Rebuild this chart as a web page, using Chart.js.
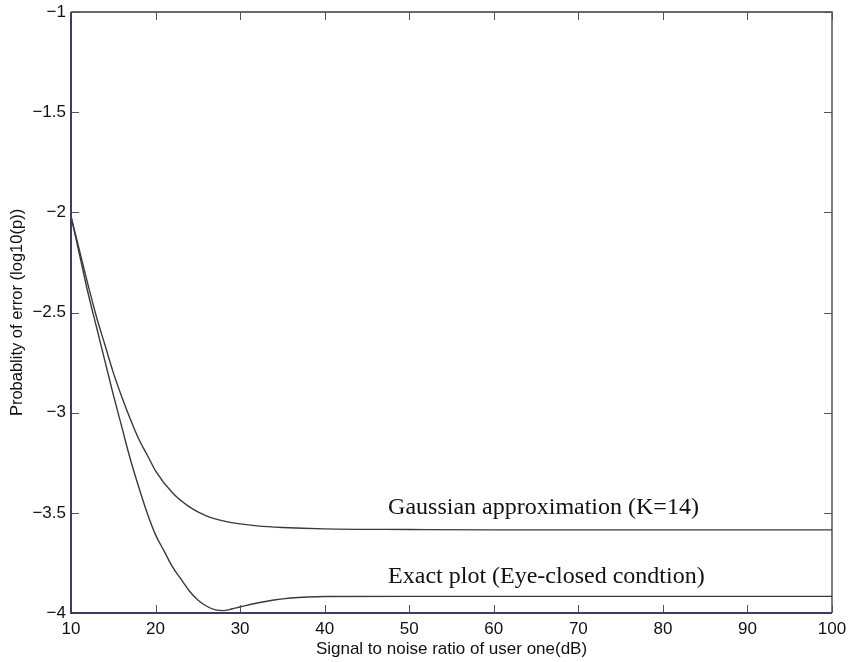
<!DOCTYPE html>
<html lang="en">

<head>
    <meta charset="utf-8">
    <style>
        html, body { margin: 0; padding: 0; background: #fff; }
        #wrap { position: relative; width: 850px; height: 662px; }
    </style>
</head>

<body>
    <div id="wrap">
        <canvas id="PeChart" width="850" height="662"></canvas>
    </div>

    <script src="https://cdn.jsdelivr.net/npm/chart.js"></script>

    <script>
        // SNR of user one (dB)
        var snrGauss = [10, 11, 12, 13, 14, 15, 16, 17, 18, 19, 20, 22, 24, 26, 28, 30, 32, 35, 40, 50, 60, 80, 100];
        // log10 of error probability, Gaussian approximation (K=14)
        var peGauss = [-2.02, -2.19, -2.36, -2.52, -2.66, -2.80, -2.92, -3.03, -3.13, -3.21, -3.29, -3.40, -3.47, -3.515, -3.54, -3.555, -3.565, -3.573, -3.58, -3.583, -3.585, -3.585, -3.585];

        var snrExact = [10, 11, 12, 13, 14, 15, 16, 17, 18, 19, 20, 21, 22, 23, 24, 25, 26, 27, 28, 29, 30, 32, 34, 36, 38, 40, 50, 60, 80, 100];
        // log10 of error probability, exact (eye-closed condition)
        var peExact = [-2.02, -2.21, -2.40, -2.57, -2.74, -2.91, -3.07, -3.23, -3.37, -3.50, -3.61, -3.69, -3.77, -3.83, -3.89, -3.935, -3.965, -3.983, -3.988, -3.98, -3.97, -3.95, -3.935, -3.925, -3.92, -3.918, -3.917, -3.917, -3.917, -3.917];

        var xTicks = [10, 20, 30, 40, 50, 60, 70, 80, 90, 100];
        var yTicks = [-4, -3.5, -3, -2.5, -2, -1.5, -1];

        // curve captions, placed in data coordinates
        var captions = [
            { text: 'Gaussian approximation (K=14)', x: 47.5, y: -3.505 },
            { text: 'Exact plot (Eye-closed condtion)', x: 47.5, y: -3.85 }
        ];

        var sansFont = '"Liberation Sans", Arial, Helvetica, sans-serif';

        function toPoints(xs, ys) {
            return xs.map(function (x, i) { return { x: x, y: ys[i] }; });
        }

        function minusSign(v) {
            return String(v).replace('-', '\u2212');
        }

        // Box frame with inward ticks on all four sides, plus the captions
        var frame = {
            id: 'frame',
            afterDraw: function (chart) {
                var ctx = chart.ctx;
                var a = chart.chartArea;
                var xs = chart.scales.x, ys = chart.scales.y;
                var tl = 8;
                ctx.save();
                ctx.lineWidth = 1.3;

                // top and right edges
                ctx.strokeStyle = '#3a3a3a';
                ctx.beginPath();
                ctx.moveTo(a.left, a.top);
                ctx.lineTo(a.right, a.top);
                ctx.lineTo(a.right, a.bottom);
                ctx.stroke();

                ctx.lineWidth = 1;
                ctx.strokeStyle = '#555';
                ctx.beginPath();
                xTicks.forEach(function (t) {
                    var px = Math.round(xs.getPixelForValue(t)) + 0.5;
                    ctx.moveTo(px, a.bottom);
                    ctx.lineTo(px, a.bottom - tl);
                    ctx.moveTo(px, a.top);
                    ctx.lineTo(px, a.top + tl);
                });
                yTicks.forEach(function (t) {
                    var py = Math.round(ys.getPixelForValue(t)) + 0.5;
                    ctx.moveTo(a.left, py);
                    ctx.lineTo(a.left + tl, py);
                    ctx.moveTo(a.right, py);
                    ctx.lineTo(a.right - tl, py);
                });
                ctx.stroke();

                // left and bottom edges
                ctx.lineWidth = 2;
                ctx.strokeStyle = '#3b3b66';
                ctx.beginPath();
                ctx.moveTo(a.left, a.top);
                ctx.lineTo(a.left, a.bottom);
                ctx.lineTo(a.right, a.bottom);
                ctx.stroke();

                ctx.fillStyle = '#111';
                ctx.font = '24px "Liberation Serif", "Times New Roman", serif';
                ctx.textAlign = 'left';
                ctx.textBaseline = 'alphabetic';
                captions.forEach(function (c) {
                    ctx.fillText(c.text, xs.getPixelForValue(c.x), ys.getPixelForValue(c.y));
                });
                ctx.restore();
            }
        };

        var ctx = document.getElementById('PeChart').getContext('2d');
        var myChart = new Chart(ctx, {
            type: 'line',
            data: {
                datasets: [{
                    label: 'Gaussian approximation (K=14)',
                    data: toPoints(snrGauss, peGauss),
                    borderColor: '#3a3a3a',
                    borderWidth: 1.4,
                    pointRadius: 0,
                    fill: false,
                    cubicInterpolationMode: 'monotone'
                }, {
                    label: 'Exact plot (Eye-closed condtion)',
                    data: toPoints(snrExact, peExact),
                    borderColor: '#3a3a3a',
                    borderWidth: 1.4,
                    pointRadius: 0,
                    fill: false,
                    cubicInterpolationMode: 'monotone'
                }]
            },
            options: {
                responsive: false,
                animation: false,
                layout: { padding: { top: 12, right: 18, left: 0, bottom: 0 } },
                plugins: {
                    legend: { display: false },
                    tooltip: { enabled: false }
                },
                scales: {
                    x: {
                        type: 'linear',
                        min: 10,
                        max: 100,
                        afterBuildTicks: function (scale) {
                            scale.ticks = xTicks.map(function (v) { return { value: v }; });
                        },
                        afterFit: function (scale) {
                            scale.height = 49;
                            scale.paddingLeft = 0;
                            scale.paddingRight = 0;
                        },
                        grid: { display: false, drawTicks: false },
                        border: { display: false },
                        ticks: {
                            color: '#111',
                            padding: 6,
                            maxRotation: 0,
                            autoSkip: false,
                            font: { family: sansFont, size: 17 },
                            callback: function (v) { return minusSign(v); }
                        },
                        title: {
                            display: true,
                            text: 'Signal to noise ratio of user one(dB)',
                            color: '#111',
                            padding: { top: 0, bottom: 2 },
                            font: { family: sansFont, size: 17 }
                        }
                    },
                    y: {
                        type: 'linear',
                        min: -4,
                        max: -1,
                        afterBuildTicks: function (scale) {
                            scale.ticks = yTicks.map(function (v) { return { value: v }; });
                        },
                        afterFit: function (scale) {
                            scale.width = 71;
                            scale.paddingTop = 0;
                            scale.paddingBottom = 0;
                        },
                        grid: { display: false, drawTicks: false },
                        border: { display: false },
                        ticks: {
                            color: '#111',
                            padding: 5,
                            autoSkip: false,
                            font: { family: sansFont, size: 17 },
                            callback: function (v) { return minusSign(v); }
                        },
                        title: {
                            display: true,
                            text: 'Probablity of error (log10(p))',
                            color: '#111',
                            padding: { top: 8, bottom: 0 },
                            font: { family: sansFont, size: 16.5 }
                        }
                    }
                }
            },
            plugins: [frame]
        });
    </script>
</body>

</html>
